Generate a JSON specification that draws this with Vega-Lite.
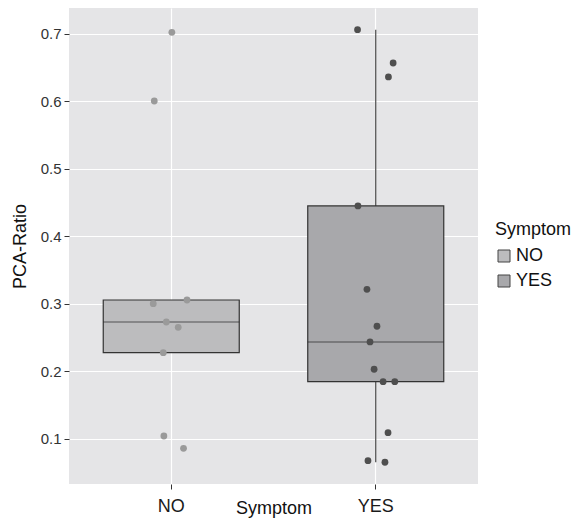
{
  "$schema": "https://vega.github.io/schema/vega-lite/v6.json",
  "autosize": "none",
  "padding": {"left": 69, "top": 8, "right": 98, "bottom": 34},
  "width": 409,
  "height": 476,
  "background": "white",
  "config": {
    "font": "Liberation Sans",
    "view": {"fill": "#e5e5e7", "stroke": null},
    "axis": {
      "domain": false,
      "grid": true,
      "gridColor": "#ffffff",
      "gridWidth": 1.2,
      "tickColor": "#333333",
      "tickSize": 5,
      "labelColor": "#333333",
      "titleColor": "#111111",
      "titleFontWeight": "normal",
      "titleFontSize": 18
    }
  },
  "data": {
    "values": [
      {"Symptom": "NO", "ratio": 0.7025, "jitter": 0.003},
      {"Symptom": "NO", "ratio": 0.6007, "jitter": -0.083},
      {"Symptom": "NO", "ratio": 0.3004, "jitter": -0.088},
      {"Symptom": "NO", "ratio": 0.3059, "jitter": 0.077},
      {"Symptom": "NO", "ratio": 0.2733, "jitter": -0.024},
      {"Symptom": "NO", "ratio": 0.2654, "jitter": 0.034},
      {"Symptom": "NO", "ratio": 0.2279, "jitter": -0.039},
      {"Symptom": "NO", "ratio": 0.1044, "jitter": -0.036},
      {"Symptom": "NO", "ratio": 0.0862, "jitter": 0.06},
      {"Symptom": "YES", "ratio": 0.7064, "jitter": -0.089},
      {"Symptom": "YES", "ratio": 0.657, "jitter": 0.085},
      {"Symptom": "YES", "ratio": 0.6363, "jitter": 0.062},
      {"Symptom": "YES", "ratio": 0.4452, "jitter": -0.087},
      {"Symptom": "YES", "ratio": 0.3218, "jitter": -0.043},
      {"Symptom": "YES", "ratio": 0.267, "jitter": 0.006},
      {"Symptom": "YES", "ratio": 0.2437, "jitter": -0.028},
      {"Symptom": "YES", "ratio": 0.2033, "jitter": -0.008},
      {"Symptom": "YES", "ratio": 0.1849, "jitter": 0.036},
      {"Symptom": "YES", "ratio": 0.1849, "jitter": 0.093},
      {"Symptom": "YES", "ratio": 0.1094, "jitter": 0.06},
      {"Symptom": "YES", "ratio": 0.0679, "jitter": -0.038},
      {"Symptom": "YES", "ratio": 0.0655, "jitter": 0.045}
    ]
  },
  "encoding": {
    "x": {
      "field": "Symptom",
      "type": "nominal",
      "scale": {"type": "band", "domain": ["NO", "YES"], "paddingInner": 0, "paddingOuter": 0},
      "axis": {
        "title": "Symptom",
        "labelAngle": 0,
        "bandPosition": 0.5,
        "labelFontSize": 18,
        "labelColor": "#1a1a1a",
        "labelBaseline": "alphabetic",
        "labelPadding": 22.5,
        "titleY": 29,
        "titleBaseline": "alphabetic"
      }
    },
    "y": {
      "field": "ratio",
      "type": "quantitative",
      "scale": {"domain": [0.0333, 0.7385], "nice": false, "zero": false},
      "axis": {
        "title": "PCA-Ratio",
        "values": [0.1, 0.2, 0.3, 0.4, 0.5, 0.6, 0.7],
        "format": ".1f",
        "labelFontSize": 15,
        "labelPadding": 3,
        "titleX": -44,
        "titleBaseline": "alphabetic"
      }
    }
  },
  "layer": [
    {
      "mark": {
        "type": "boxplot",
        "extent": 1.5,
        "size": 136,
        "outliers": false,
        "ticks": false,
        "box": {"stroke": "#333333", "strokeWidth": 1.2, "opacity": 1},
        "median": {"color": "#262626", "strokeWidth": 1.2},
        "rule": {"color": "#3a3a3a", "strokeWidth": 1.1}
      },
      "encoding": {
        "color": {
          "field": "Symptom",
          "type": "nominal",
          "scale": {"domain": ["NO", "YES"], "range": ["#bcbcbe", "#a8a8ab"]},
          "legend": {
            "title": "Symptom",
            "orient": "none",
            "legendX": 426,
            "legendY": 213,
            "padding": 0,
            "titleFontSize": 18,
            "titleFontWeight": "normal",
            "titleColor": "#111111",
            "titlePadding": 8,
            "labelFontSize": 18,
            "labelColor": "#111111",
            "labelOffset": 3,
            "rowPadding": 7,
            "symbolType": "square",
            "symbolSize": 144,
            "symbolStrokeColor": "#444444",
            "symbolStrokeWidth": 1,
            "symbolOpacity": 1
          }
        }
      }
    },
    {
      "mark": {"type": "point", "filled": true, "size": 46, "opacity": 1},
      "encoding": {
        "xOffset": {
          "field": "jitter",
          "type": "quantitative",
          "scale": {"domain": [-0.5, 0.5], "range": [0, 204.5]}
        },
        "color": {
          "field": "Symptom",
          "type": "nominal",
          "scale": {"domain": ["NO", "YES"], "range": ["#9a9a9a", "#4f4f4f"]},
          "legend": null
        }
      }
    }
  ],
  "resolve": {"scale": {"color": "independent"}}
}
